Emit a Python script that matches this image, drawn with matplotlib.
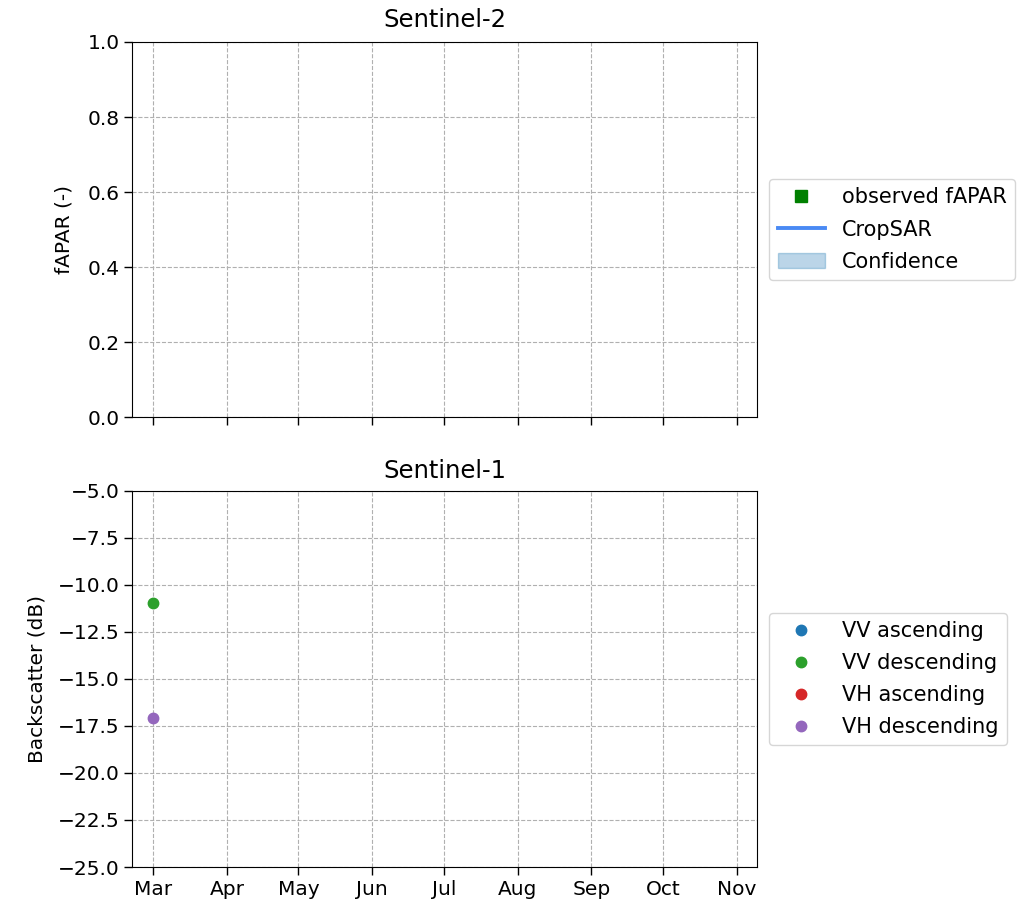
import matplotlib
matplotlib.use("Agg")
import matplotlib.pyplot as plt
import matplotlib.dates as mdates
import numpy as np
import pandas as pd

# Data
fapar_dates = pd.to_datetime([])
fapar_obs = np.array([])
cropsar_dates = pd.to_datetime([])
cropsar_vals = np.array([])
conf_low = np.array([])
conf_high = np.array([])

s1_dates = pd.to_datetime(["2019-03-01"])
vv_asc = np.array([np.nan])
vv_desc = np.array([-10.95])
vh_asc = np.array([np.nan])
vh_desc = np.array([-17.08])

xlim = (pd.Timestamp("2019-02-20 04:00"), pd.Timestamp("2019-11-09 10:00"))

plt.rcParams["font.family"] = "DejaVu Sans"
plt.rcParams["font.size"] = 14.5
plt.rcParams["xtick.major.size"] = 5.5
plt.rcParams["ytick.major.size"] = 5.5
plt.rcParams["xtick.major.width"] = 1.0
plt.rcParams["ytick.major.width"] = 1.0

fig = plt.figure(figsize=(10.27, 9.07), dpi=100)
ax1 = fig.add_axes([0.1285, 0.5402, 0.737 - 0.1285, 0.9537 - 0.5402])
ax2 = fig.add_axes([0.1285, 0.0441, 0.737 - 0.1285, 0.4587 - 0.0441], sharex=ax1)

leg_kw = dict(loc="center left", bbox_to_anchor=(1.003, 0.5), handlelength=2.3,
              labelspacing=0.58, framealpha=0.8, fontsize=15)

ax1.plot(fapar_dates, fapar_obs, "s", color="green", markersize=9, label="observed fAPAR")
ax1.plot(cropsar_dates, cropsar_vals, "-", color="#4a8af4", linewidth=2.8, label="CropSAR")
ax1.fill_between(cropsar_dates, conf_low, conf_high, color="tab:blue", alpha=0.3, label="Confidence")
ax1.set_ylim(0, 1)
ax1.set_ylabel("fAPAR (-)", labelpad=10)
ax1.set_title("Sentinel-2", fontsize=17.5, pad=11)
ax1.grid(True, linestyle="--", color="#b0b0b0")
ax1.legend(**leg_kw)
plt.setp(ax1.get_xticklabels(), visible=False)

ms = 7.5
ax2.plot(s1_dates, vv_asc, "o", color="tab:blue", markersize=ms, label="VV ascending")
ax2.plot(s1_dates, vv_desc, "o", color="tab:green", markersize=ms, label="VV descending")
ax2.plot(s1_dates, vh_asc, "o", color="tab:red", markersize=ms, label="VH ascending")
ax2.plot(s1_dates, vh_desc, "o", color="tab:purple", markersize=ms, label="VH descending")
ax2.set_ylim(-25, -5)
ax2.set_yticks(np.arange(-25, -4.9, 2.5))
ax2.set_ylabel("Backscatter (dB)", labelpad=8)
ax2.set_title("Sentinel-1", fontsize=17.5, pad=9)
ax2.grid(True, linestyle="--", color="#b0b0b0")
ax2.legend(**leg_kw)

ax2.xaxis.set_major_locator(mdates.MonthLocator())
ax2.xaxis.set_major_formatter(mdates.DateFormatter("%b"))
ax2.set_xlim(*xlim)

fig.savefig("out.png", dpi=100)
